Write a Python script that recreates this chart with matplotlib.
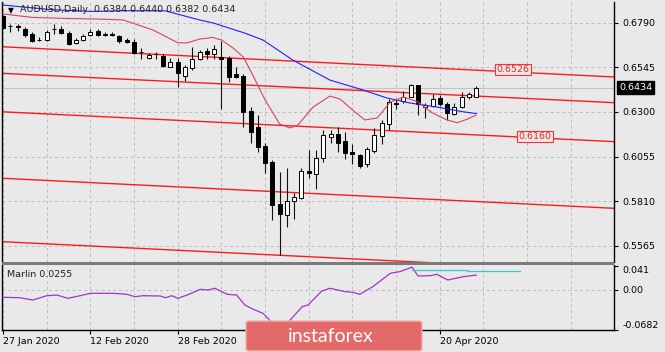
import matplotlib.pyplot as plt
from matplotlib.patches import FancyBboxPatch
import numpy as np

# daily AUDUSD bars, 27 Jan .. 27 Apr 2020
opens = [0.6827, 0.6770, 0.6772, 0.6754, 0.6728, 0.6694, 0.6695, 0.6753, 0.6754, 0.6735,
         0.6677, 0.6695, 0.6723, 0.6745, 0.6725, 0.6728, 0.6717, 0.6695, 0.6686, 0.6628,
         0.6595, 0.6616, 0.6609, 0.6548, 0.6573, 0.6499, 0.6540, 0.6589, 0.6636, 0.6617,
         0.6604, 0.6595, 0.6507, 0.6497, 0.6307, 0.6219, 0.6113, 0.6027, 0.5793, 0.5734,
         0.5813, 0.5826, 0.5977, 0.5959, 0.6046, 0.6161, 0.6179, 0.6140, 0.6082, 0.6064,
         0.6013, 0.6087, 0.6170, 0.6234, 0.6351, 0.6360, 0.6384, 0.6448, 0.6329, 0.6333,
         0.6375, 0.6344, 0.6289, 0.6326, 0.6384, 0.6384]
highs = [0.6832, 0.6781, 0.6781, 0.6765, 0.6739, 0.6713, 0.6750, 0.6783, 0.6774, 0.6743,
         0.6704, 0.6728, 0.6754, 0.6754, 0.6739, 0.6739, 0.6724, 0.6704, 0.6699, 0.6649,
         0.6625, 0.6629, 0.6617, 0.6595, 0.6595, 0.6558, 0.6655, 0.6640, 0.6649, 0.6668,
         0.6691, 0.6607, 0.6548, 0.6508, 0.6329, 0.6283, 0.6128, 0.6036, 0.5972, 0.5991,
         0.5857, 0.5991, 0.6091, 0.6091, 0.6201, 0.6201, 0.6219, 0.6192, 0.6124, 0.6069,
         0.6109, 0.6210, 0.6256, 0.6369, 0.6369, 0.6417, 0.6453, 0.6450, 0.6347, 0.6399,
         0.6393, 0.6353, 0.6348, 0.6411, 0.6411, 0.6440]
lows = [0.6755, 0.6741, 0.6746, 0.6713, 0.6686, 0.6691, 0.6691, 0.6728, 0.6726, 0.6668,
        0.6672, 0.6691, 0.6717, 0.6717, 0.6717, 0.6717, 0.6677, 0.6677, 0.6617, 0.6591,
        0.6591, 0.6592, 0.6548, 0.6545, 0.6435, 0.6472, 0.6530, 0.6585, 0.6592, 0.6589,
        0.6316, 0.6466, 0.6485, 0.6219, 0.6128, 0.6082, 0.5963, 0.5707, 0.5515, 0.5670,
        0.5711, 0.5820, 0.5936, 0.5876, 0.6027, 0.6128, 0.6082, 0.6040, 0.6014, 0.5991,
        0.5999, 0.6073, 0.6122, 0.6201, 0.6315, 0.6348, 0.6381, 0.6283, 0.6265, 0.6326,
        0.6333, 0.6256, 0.6283, 0.6320, 0.6369, 0.6382]
closes = [0.6759, 0.6772, 0.6765, 0.6723, 0.6691, 0.6696, 0.6741, 0.6755, 0.6735, 0.6673,
          0.6695, 0.6719, 0.6741, 0.6724, 0.6727, 0.6721, 0.6691, 0.6684, 0.6622, 0.6630,
          0.6613, 0.6618, 0.6552, 0.6576, 0.6516, 0.6545, 0.6589, 0.6631, 0.6618, 0.6644,
          0.6592, 0.6494, 0.6494, 0.6301, 0.6192, 0.6109, 0.6018, 0.5789, 0.5740, 0.5813,
          0.5831, 0.5977, 0.5963, 0.6046, 0.6173, 0.6177, 0.6128, 0.6076, 0.6069, 0.6003,
          0.6097, 0.6173, 0.6241, 0.6356, 0.6342, 0.6384, 0.6448, 0.6344, 0.6338, 0.6369,
          0.6342, 0.6293, 0.6326, 0.6381, 0.6399, 0.6434]

# moving averages, sampled along the curves
red_ma_bar = [0, 4, 9, 13, 16.5, 20.6, 24, 25.3, 27, 28.8, 30, 31.6, 33, 34.3, 36, 38, 39.4,
              40.5, 42.6, 44.9, 46.3, 48, 49.7, 51.4, 53.2, 55, 57, 59, 61, 62.4, 63.7, 65]
red_ma = [0.6838, 0.6819, 0.6813, 0.6810, 0.6805, 0.6750, 0.6680, 0.6679, 0.6700, 0.6709,
          0.6695, 0.6651, 0.6602, 0.6503, 0.6366, 0.6234, 0.6212, 0.6228, 0.6327, 0.6387,
          0.6371, 0.6311, 0.6256, 0.6267, 0.6354, 0.6382, 0.6355, 0.6294, 0.6256, 0.6241,
          0.6259, 0.6283]
blue_ma_bar = [0, 6.5, 12, 17.4, 22.3, 27, 29, 33.2, 35.7, 39.8, 44.9, 49.5, 52.7, 55.9, 59.6, 63.2, 65]
blue_ma = [0.6887, 0.6862, 0.6852, 0.6856, 0.6855, 0.6805, 0.6787, 0.6733, 0.6695, 0.6585,
           0.6475, 0.6420, 0.6377, 0.6349, 0.6327, 0.6301, 0.6291]

# parallel channel lines: price at left edge and right edge of the chart
chan_left = [0.6658, 0.6512, 0.6301, 0.5936, 0.5588]
chan_right = [0.6492, 0.6351, 0.6137, 0.5771, 0.5423]

# Marlin oscillator
marlin_bar = [0, 2.3, 4.1, 6, 7.4, 8.9, 10.6, 12, 15.1, 17, 18.1, 19.2, 21.6, 22.3, 23.2, 24,
              25.3, 27.1, 28.2, 29.1, 30.8, 32.1, 33.2, 34.3, 35.7, 36.4, 37.4, 38.3, 39.1,
              41.1, 41.9, 43.8, 44.9, 47, 48.1, 49, 50.8, 53.2, 54.5, 56.2, 57, 58.7, 59.6,
              61.1, 63.2, 65]
marlin = [-0.0124, -0.0131, -0.0170, -0.0097, -0.0085, -0.0141, -0.0097, -0.0056, -0.0056,
          -0.0073, -0.0114, -0.0097, -0.0102, -0.0131, -0.0097, -0.0141, -0.0085, 0.0012,
          0.0000, 0.0030, -0.0073, -0.0085, -0.0255, -0.0324, -0.0397, -0.0482, -0.0640,
          -0.0682, -0.0560, -0.0284, -0.0255, -0.0017, 0.0030, -0.0028, -0.0039, -0.0073,
          0.0057, 0.0285, 0.0313, 0.0390, 0.0239, 0.0245, 0.0268, 0.0171, 0.0227, 0.0255]
marlin_lvl_bar = [56.2, 63.7, 63.7, 71]
marlin_lvl = [0.0345, 0.0345, 0.0330, 0.0330]

# date ticks; the two in the middle sit under the watermark and are not visible
date_bars = [0, 12, 24, 36, 48, 60]
date_labels = ['27 Jan 2020', '12 Feb 2020', '28 Feb 2020', '', '', '20 Apr 2020']
price_ticks = [0.6790, 0.6545, 0.6300, 0.6055, 0.5810, 0.5565]
marlin_ticks = [0.041, 0.0, -0.0682]
marlin_ticklabels = ['0.041', '0.00', '-0.0682']

BG = '#e9e9e9'
GRID = '#bcbcbc'
W, H = 665, 352


def box(x0, y0, x1, y1):
    return [x0 / W, 1 - y1 / H, (x1 - x0) / W, (y1 - y0) / H]


plt.rcParams['font.family'] = 'DejaVu Sans'
fig = plt.figure(figsize=(W / 100, H / 100), dpi=100)
fig.patch.set_facecolor(BG)

ax = fig.add_axes(box(2, 2, 614, 262))
ax2 = fig.add_axes(box(2, 265, 614, 330))
xlim = (-0.14, 83.93)

for a in (ax, ax2):
    a.set_facecolor(BG)
    a.set_xlim(*xlim)
    a.set_xticks(range(0, 84, 12))
    a.set_xticks(range(6, 84, 12), minor=True)
    a.grid(True, which='both', axis='both', color=GRID, linestyle=(0, (3, 3)), linewidth=0.7)
    a.yaxis.tick_right()
    a.tick_params(axis='y', which='major', direction='out', length=3, width=0.8,
                  labelsize=6.8, pad=3, colors='black')
    a.tick_params(axis='x', which='both', length=0, labelbottom=False)
    a.spines['top'].set_visible(False)
    for s in ('left', 'right', 'bottom'):
        a.spines[s].set_linewidth(1.0)
    a.set_axisbelow(True)

# main pane
ax.set_ylim(0.54762, 0.69036)
ax.set_yticks(price_ticks)
ax.set_yticklabels([f'{p:.4f}' for p in price_ticks])
ax.spines['bottom'].set_visible(False)

# channel lines
for pl, pr in zip(chan_left, chan_right):
    ax.plot([xlim[0], xlim[1]], [pl, pr], color='#ff1a1a', lw=1.0, zorder=2)

# bid line
ax.axhline(closes[-1], color='#c4c4c4', lw=0.8, zorder=1)

# candles
bars = np.arange(len(opens))
o = np.array(opens); c = np.array(closes)
ax.vlines(bars, lows, highs, color='#111111', lw=0.8, zorder=3)
up = c >= o
ax.bar(bars[up], np.maximum(c[up] - o[up], 0.00005), bottom=o[up], width=0.55,
       color='white', edgecolor='black', linewidth=0.7, zorder=4)
ax.bar(bars[~up], np.maximum(o[~up] - c[~up], 0.00005), bottom=c[~up], width=0.55,
       color='black', edgecolor='black', linewidth=0.7, zorder=4)

ax.plot(blue_ma_bar, blue_ma, color='#2020ff', lw=0.8, zorder=5)
ax.plot(red_ma_bar, red_ma, color='#e0405c', lw=0.8, zorder=5)

# price labels on the trend lines
for xb, yp, txt in [(70.0, 0.6533, '0.6526'), (73.1, 0.6165, '0.6160')]:
    ax.text(xb, yp, txt, color='#ff2020', fontsize=6.8, ha='center', va='center', zorder=6,
            bbox=dict(boxstyle='square,pad=0.15', fc=BG, ec='#ff3030', lw=0.8))

# current price box on the axis
ax.text(1.008, closes[-1], f'{closes[-1]:.4f}', transform=ax.get_yaxis_transform(),
        color='white', fontsize=6.8, ha='left', va='center', zorder=7, clip_on=False,
        bbox=dict(boxstyle='square,pad=0.25', fc='black', ec='black'))

fig.text(8 / W, 1 - 10.5 / H, '\u25bc', fontsize=5.5, va='center', ha='left')
fig.text(20 / W, 1 - 10 / H, 'AUDUSD,Daily  0.6384 0.6440 0.6382 0.6434', fontsize=6.8,
         va='center', ha='left', color='#202020')

# lower pane
ax2.set_ylim(-0.0682, 0.0427)
ax2.set_yticks(marlin_ticks)
ax2.set_yticklabels(marlin_ticklabels)
ax2.grid(False, axis='y')
ax2.axhline(0, color=GRID, linestyle=(0, (3, 3)), lw=0.7, zorder=1)
for lab, va in zip(ax2.get_yticklabels(), ['top', 'center', 'bottom']):
    lab.set_va(va)
ax2.plot(marlin_bar, marlin, color='#a235c8', lw=0.9, zorder=3)
ax2.plot(marlin_lvl_bar, marlin_lvl, color='#3cc8c8', lw=0.9, zorder=3)
ax2.text(5 / 612, 0.86, 'Marlin 0.0255', transform=ax2.transAxes, fontsize=6.8,
         ha='left', va='center', color='#202020')

ax2.set_xticks(date_bars)
ax2.tick_params(axis='x', which='major', direction='out', length=3, width=0.8,
                labelbottom=True, labelsize=6.8, pad=2)
ax2.set_xticklabels(date_labels)
for lab in ax2.get_xticklabels():
    lab.set_ha('left')

# pane separator
fig.add_artist(plt.Rectangle((2 / W, 1 - 265 / H), 612 / W, 3 / H, transform=fig.transFigure,
                             color='#7a7a7a', lw=0))

# watermark logo
logo = FancyBboxPatch((246 / W, 1 - 351 / H), 176 / W, 30 / H, transform=fig.transFigure,
                      boxstyle='round,pad=0,rounding_size=0.006', fc='#e46a6a', ec='#f2b0b0',
                      lw=1.0, zorder=10)
fig.add_artist(logo)
fig.text(331 / W, 1 - 336 / H, 'instaforex', fontsize=14, family='Lato', color='white',
         ha='center', va='center', zorder=11)

fig.savefig('out.png', dpi=100, facecolor=BG)
